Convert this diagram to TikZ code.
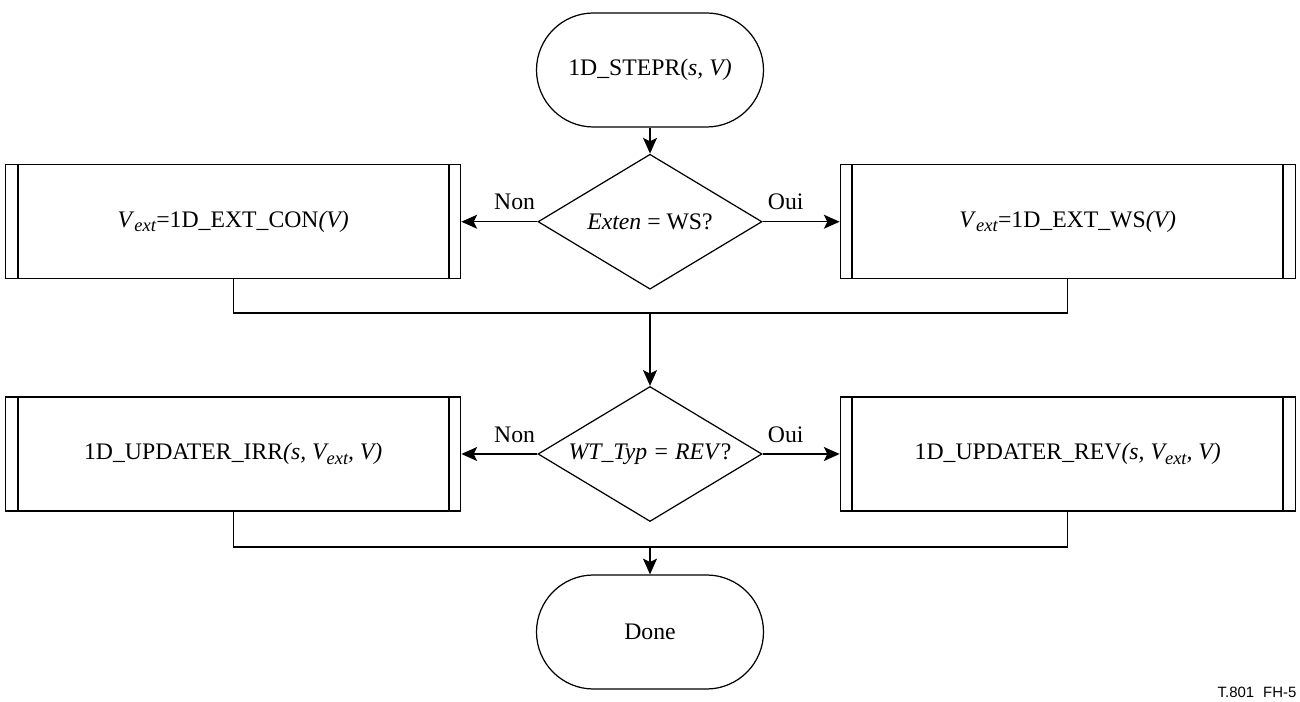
\documentclass[tikz,border=0pt]{standalone}
\usepackage{fontspec}
\setmainfont{Liberation Serif}
\newfontfamily\tagfont{Liberation Sans}
\usetikzlibrary{arrows.meta,positioning,shapes.geometric}
\newcommand{\vext}{\textit{V}\raisebox{-0.4ex}{\fontsize{10.5}{12}\selectfont\textit{ext}}}
\tikzset{
  termnode/.style={draw, rectangle, rounded corners=1.14cm, minimum width=4.54cm, minimum height=2.28cm, inner sep=0pt},
  decnode/.style={draw, diamond, aspect=1.66, minimum width=4.48cm, minimum height=2.7cm, inner sep=0pt},
  procnode/.style={draw, rectangle, minimum width=9.1cm, minimum height=2.28cm, inner sep=0pt,
    path picture={
      \draw[line width=1.3pt] ([xshift=0.24cm]path picture bounding box.north west) -- ([xshift=0.24cm]path picture bounding box.south west);
      \draw[line width=1.3pt] ([xshift=-0.24cm]path picture bounding box.north east) -- ([xshift=-0.24cm]path picture bounding box.south east);
    }},
  flow/.style={-{Stealth[length=9pt,width=8pt,inset=2pt]}},
  answer/.style={pos=0.3, above, yshift=3pt}
}

\begin{document}
\begin{tikzpicture}[line width=0.7pt, font=\fontsize{13.5}{16}\selectfont]
  \useasboundingbox (0,0) rectangle (26,-14.04);
  % start and first decision
  \node [termnode] (start) at (13,-1.4) {1D\_STEPR(\textit{s, V)}};
  \node [decnode, below=0.52cm of start] (exten) {\textit{Exten} = WS?};
  \node [procnode, left=1.52cm of exten] (extcon) {\vext=1D\_EXT\_CON\textit{(V)}};
  \node [procnode, right=1.54cm of exten] (extws) {\vext=1D\_EXT\_WS\textit{(V)}};
  \coordinate (join1) at (13,-6.26);

  % second decision
  \node [decnode] (wttyp) at (13,-9.08) {\textit{WT\_Typ = REV}?};
  \node [procnode, left=1.52cm of wttyp] (updirr) {1D\_UPDATER\_IRR\textit{(s, \vext, V)}};
  \node [procnode, right=1.54cm of wttyp] (updrev) {1D\_UPDATER\_REV\textit{(s, \vext, V)}};
  \coordinate (join2) at (13,-10.94);
  \node [termnode] (done) at (13,-12.64) {Done};

  \node [font=\tagfont\fontsize{8.5}{10}\selectfont] (tag) at (25.14,-13.84) {T.801\hspace{0.6em}FH-5};

  \draw [flow] (start) -- (exten);
  \draw [flow] (exten) -- node [answer] {Non} (extcon);
  \draw [flow] (exten) -- node [answer] {Oui} (extws);
  \draw (extcon.south) |- (join1) -| (extws.south);
  \draw [flow] (join1) -- (wttyp);
  \draw [flow] (wttyp) -- node [answer] {Non} (updirr);
  \draw [flow] (wttyp) -- node [answer] {Oui} (updrev);
  \draw (updirr.south) |- (join2) -| (updrev.south);
  \draw [flow] (join2) -- (done);
\end{tikzpicture}
\end{document}
